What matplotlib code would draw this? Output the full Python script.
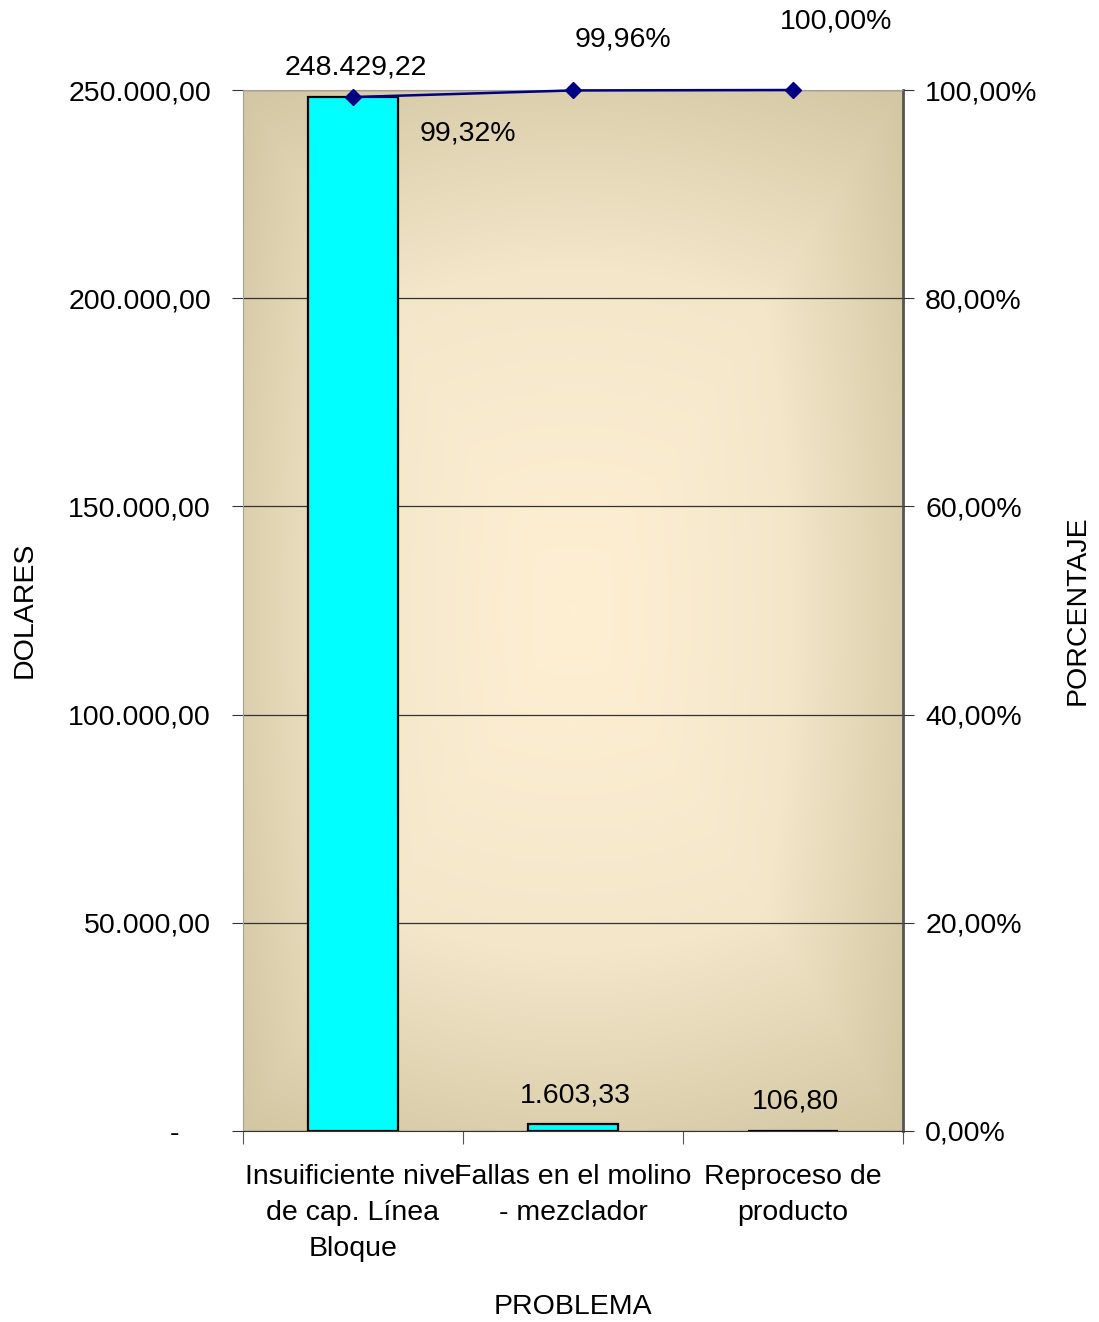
import numpy as np
import matplotlib
matplotlib.use("Agg")
import matplotlib.pyplot as plt
from matplotlib.colors import LinearSegmentedColormap

plt.rcParams['font.family'] = ['Liberation Sans', 'DejaVu Sans']

categories = ["Insuificiente nivel\nde cap. Línea\nBloque",
              "Fallas en el molino\n- mezclador",
              "Reproceso de\nproducto"]
dollars = [248429.22, 1603.33, 106.80]
dollar_labels = ["248.429,22", "1.603,33", "106,80"]
cum_pct = [0.9932, 0.9996, 1.0000]
pct_labels = ["99,32%", "99,96%", "100,00%"]
left_ticks = [0, 50000, 100000, 150000, 200000, 250000]
left_tick_labels = ["-    ", "50.000,00", "100.000,00", "150.000,00", "200.000,00", "250.000,00"]
right_ticks = [0, 0.2, 0.4, 0.6, 0.8, 1.0]
right_tick_labels = ["0,00%", "20,00%", "40,00%", "60,00%", "80,00%", "100,00%"]

FS = 20.5
W, H = 1099, 1322
fig = plt.figure(figsize=(W/100, H/100), dpi=100)
ax = fig.add_axes([243/W, 1-1131/H, (903-243)/W, (1131-90)/H])

# background gradient (rectangular path gradient)
ny, nx = 300, 300
u = np.linspace(-1, 1, nx)
v = np.linspace(-1, 1, ny)
U, V = np.meshgrid(u, v)
t = np.maximum(np.abs(U), np.abs(V)) * 0.6 + np.sqrt(U**2 + V**2) / np.sqrt(2) * 0.4
t = np.clip(t, 0, 1) ** 1.3
cmap = LinearSegmentedColormap.from_list("bg", ["#FEEFD3", "#F3E6C9", "#D3C6A2"])
ax.imshow(t, cmap=cmap, extent=[0, 1, 0, 1], transform=ax.transAxes,
          aspect='auto', zorder=0, vmin=0, vmax=1, interpolation='bilinear')

x = np.arange(len(categories))
ax.bar(x, dollars, width=0.405, color="#00FFFF", edgecolor="black", linewidth=1.6, zorder=3)
ax.set_xlim(-0.5, 2.5)
ax.set_ylim(0, 250000)
ax.set_yticks(left_ticks)
ax.set_yticklabels(left_tick_labels)
ax.yaxis.grid(True, color="#333333", linewidth=0.9, zorder=1)
for gl in ax.get_ygridlines():
    gl.set_zorder(1)

ax.set_xticks([-0.5, 0.5, 1.5, 2.5])
ax.set_xticklabels([])
ax.set_xticks(x, minor=True)
ax.set_xticklabels(categories, minor=True, fontsize=FS, linespacing=1.5)
ax.tick_params(axis='x', which='minor', length=0, pad=24)
ax.tick_params(axis='x', which='major', length=9, color="#555555")
ax.tick_params(axis='y', length=8, labelsize=FS, color="#333333", pad=15)

for s in ['top', 'left']:
    ax.spines[s].set_color("#A0A0A0")
ax.spines['bottom'].set_color("#333333")
ax.spines['right'].set_color("#555555")
ax.spines['right'].set_linewidth(2)

for xi, val, lab in zip(x, dollars, dollar_labels):
    ax.annotate(lab, (xi, val), xytext=(2, 21), textcoords='offset points',
                ha='center', va='center', fontsize=FS, zorder=5)

fig.text(573/W, 1-1307/H, "PROBLEMA", fontsize=FS, ha='center', va='center')
fig.text(25/W, 1-610/H, "DOLARES", fontsize=FS, ha='center', va='center', rotation=90)
fig.text(1078/W, 1-610/H, "PORCENTAJE", fontsize=FS, ha='center', va='center', rotation=90)

ax2 = ax.twinx()
ax2.set_ylim(0, 1)
ax2.set_yticks(right_ticks)
ax2.set_yticklabels(right_tick_labels)
ax2.tick_params(axis='y', length=8, labelsize=FS, color="#333333", pad=8)
for s in ax2.spines.values():
    s.set_visible(False)
ax2.plot(x, cum_pct, color="#000080", linewidth=1.8, marker='D', markersize=8,
         markerfacecolor="#000080", markeredgecolor="#000080", zorder=6, clip_on=False)
offsets = [(83, -26), (36, 37), (31, 49)]
for xi, val, lab, off in zip(x, cum_pct, pct_labels, offsets):
    ax2.annotate(lab, (xi, val), xytext=off, textcoords='offset points',
                 ha='center', va='center', fontsize=FS, annotation_clip=False)

fig.savefig("out.png", dpi=100)
